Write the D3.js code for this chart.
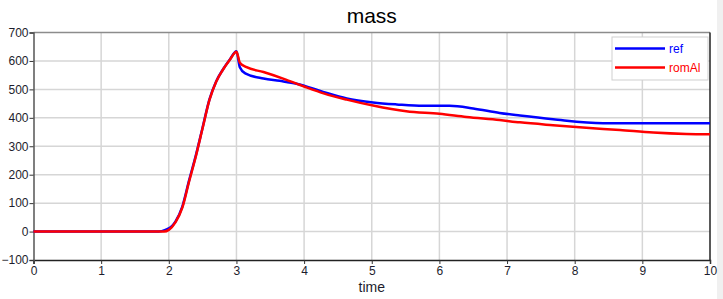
<!DOCTYPE html>
<html>
<head>
<meta charset="utf-8">
<script src="https://cdn.jsdelivr.net/npm/d3@7"></script>
<style>
  body { margin: 0; background: #fff; }
  svg { font-family: Arial, "Liberation Sans", sans-serif; }
</style>
</head>
<body>
<div id="chart"></div>
<script>
// values
var refTime = [0, 1.85, 1.95, 2.05, 2.1, 2.2, 2.3, 2.4, 2.5, 2.6, 2.7, 2.8, 2.9, 3.0, 3.05, 3.13, 3.4, 3.64, 3.89, 4.28, 4.63, 5.02, 5.37, 5.76, 6.15, 6.5, 6.89, 7.19, 7.68, 8.42, 10];
var refMass = [0, 0, 6, 20, 36, 88, 180, 268, 366, 464, 528, 570, 604, 634, 578, 556, 538, 530, 520, 491, 468, 454, 447, 442, 442, 433, 417, 408, 395, 381, 381];
var romTime = [0, 1.93, 2.0, 2.1, 2.2, 2.3, 2.4, 2.5, 2.6, 2.7, 2.8, 2.9, 3.0, 3.05, 3.15, 3.4, 3.7, 4.0, 4.3, 4.63, 5.02, 5.51, 6.0, 6.4, 6.89, 7.19, 7.68, 8.17, 8.67, 9.16, 9.65, 10];
var romMass = [0, 0, 6, 33, 84, 176, 265, 364, 462, 527, 569, 603, 632, 594, 578, 561, 537, 510, 485, 464, 443, 423, 414, 403, 392, 384, 374, 365, 357, 348, 343, 342];
var xTicks = [0, 1, 2, 3, 4, 5, 6, 7, 8, 9, 10];
var yTicks = [-100, 0, 100, 200, 300, 400, 500, 600, 700];
var seriesNames = ['ref', 'romAl'];
var seriesColors = ['#0000ff', '#ff0000'];

var width = 723, height = 299;
var margin = {top: 32.5, right: 13, bottom: 39, left: 33.5};
var w = width - margin.left - margin.right;
var h = height - margin.top - margin.bottom;

var svg = d3.select('#chart').append('svg')
    .attr('width', width)
    .attr('height', height);

// light strip on the far right edge
svg.append('rect')
    .attr('x', 717).attr('y', 0)
    .attr('width', 6).attr('height', height)
    .attr('fill', '#f0f0f0');

var x = d3.scaleLinear().domain([0, 10]).range([0, w]);
var y = d3.scaleLinear().domain([-100, 700]).range([h, 0]);

var g = svg.append('g').attr('transform', `translate(${margin.left},${margin.top})`);

// grid
g.append('g').selectAll('line.gx')
    .data(xTicks.slice(1, -1))
    .enter().append('line')
    .attr('x1', d => x(d)).attr('x2', d => x(d))
    .attr('y1', 0).attr('y2', h)
    .attr('stroke', '#d6d6d6').attr('stroke-width', 1.5);
g.append('g').selectAll('line.gy')
    .data(yTicks.slice(1, -1))
    .enter().append('line')
    .attr('x1', 0).attr('x2', w)
    .attr('y1', d => y(d)).attr('y2', d => y(d))
    .attr('stroke', '#d6d6d6').attr('stroke-width', 1.5);

// frame top / right
g.append('line').attr('x1', 0).attr('x2', w).attr('y1', 0).attr('y2', 0)
    .attr('stroke', '#8c8c8c').attr('stroke-width', 1.5);
g.append('line').attr('x1', w).attr('x2', w).attr('y1', 0).attr('y2', h)
    .attr('stroke', '#222').attr('stroke-width', 1.5);

// axes
var xAxis = g.append('g')
    .attr('transform', `translate(0,${h})`)
    .call(d3.axisBottom(x).tickValues(xTicks).tickSize(4).tickPadding(2).tickFormat(d3.format('d')));
var yAxis = g.append('g')
    .call(d3.axisLeft(y).tickValues(yTicks).tickSize(4).tickPadding(1).tickFormat(d3.format('d')));

xAxis.select('.domain').attr('stroke', '#222').attr('stroke-width', 1.5);
yAxis.select('.domain').attr('stroke', '#555').attr('stroke-width', 1.5);
[xAxis, yAxis].forEach(a => {
    a.selectAll('.tick line').attr('stroke', '#333');
    a.selectAll('.tick text').attr('fill', '#1d1d2d').style('font-size', '12px')
        .style('font-family', 'Arial, "Liberation Sans", sans-serif');
});

// series
var line = d3.line()
    .x(d => x(d[0]))
    .y(d => y(d[1]))
    .curve(d3.curveMonotoneX);

var series = [
    d3.zip(refTime, refMass),
    d3.zip(romTime, romMass)
];
series.forEach((s, i) => {
    g.append('path')
        .datum(s)
        .attr('fill', 'none')
        .attr('stroke', seriesColors[i])
        .attr('stroke-width', 2.5)
        .attr('stroke-linejoin', 'round')
        .attr('d', line);
});

// title and axis label
svg.append('text')
    .attr('x', margin.left + w / 2).attr('y', 23)
    .attr('text-anchor', 'middle')
    .style('font-size', '21px')
    .attr('fill', '#000')
    .text('mass');
svg.append('text')
    .attr('x', margin.left + w / 2).attr('y', 292)
    .attr('text-anchor', 'middle')
    .style('font-size', '14px')
    .attr('fill', '#1d1d2d')
    .text('time');

// legend
var legend = svg.append('g').attr('transform', 'translate(612,37)');
legend.append('rect')
    .attr('width', 96).attr('height', 43)
    .attr('fill', '#fff').attr('stroke', '#cfcfcf').attr('stroke-width', 1);
seriesNames.forEach((name, i) => {
    var ly = 11.5 + i * 19;
    legend.append('line')
        .attr('x1', 3).attr('x2', 53).attr('y1', ly).attr('y2', ly)
        .attr('stroke', seriesColors[i]).attr('stroke-width', 2.5);
    legend.append('text')
        .attr('x', 57).attr('y', ly + 4)
        .style('font-size', '12px')
        .attr('fill', seriesColors[i])
        .text(name);
});
</script>
</body>
</html>
